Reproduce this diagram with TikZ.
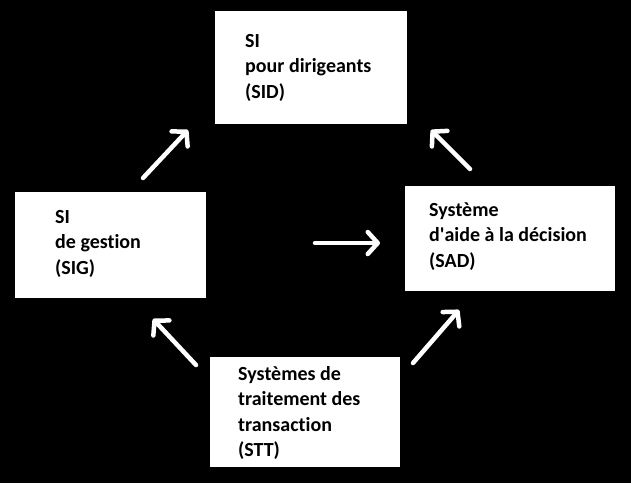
\documentclass[tikz,border=0pt]{standalone}
\usepackage{fontspec}
\setmainfont[Ligatures={NoCommon}]{Carlito}
\usetikzlibrary{arrows.meta}
\begin{document}
\begin{tikzpicture}[x=1pt,y=-1pt,
  box/.style={fill=white,draw=none},
  lbl/.style={anchor=base west,inner sep=0pt,align=left,text=black,
    font=\bfseries\fontsize{20}{25.5}\selectfont},
  arr/.style={draw=white,line width=4.5pt,line cap=round,
    -{Straight Barb[length=10pt,width=22pt,line width=4.5pt,round]}}]
\fill[black] (0,0) rectangle (631,483);
\useasboundingbox (0,0) rectangle (631,483);
% boxes
\path[box] (215,11) rectangle (407,124);
\path[box] (15,192) rectangle (206,298);
\path[box] (405,186) rectangle (615,291);
\path[box] (210,357) rectangle (400,467);
% texts (anchored at the baseline of the last line)
\node[lbl] (tsid) at (245,98) {SI\\pour dirigeants\\(SID)};
\node[lbl] (tsig) at (55,274) {SI\\de gestion\\(SIG)};
\node[lbl] (tsad) at (429,267) {Système\\d\textquotesingle aide à la décision\\(SAD)};
\node[lbl] (tstt) at (238,456.5) {Systèmes de\\traitement des\\transaction\\(STT)};
% arrow ends
\coordinate (a1s) at (143,178); \coordinate (a1e) at (188,130);
\coordinate (a2s) at (470,169); \coordinate (a2e) at (431,130);
\coordinate (a3s) at (315,243); \coordinate (a3e) at (380,243);
\coordinate (a4s) at (196,365); \coordinate (a4e) at (153,319);
\coordinate (a5s) at (413,363); \coordinate (a5e) at (459,310);
\draw[arr] (a1s) -- (a1e);
\draw[arr] (a2s) -- (a2e);
\draw[arr] (a3s) -- (a3e);
\draw[arr] (a4s) -- (a4e);
\draw[arr] (a5s) -- (a5e);
\end{tikzpicture}
\end{document}
